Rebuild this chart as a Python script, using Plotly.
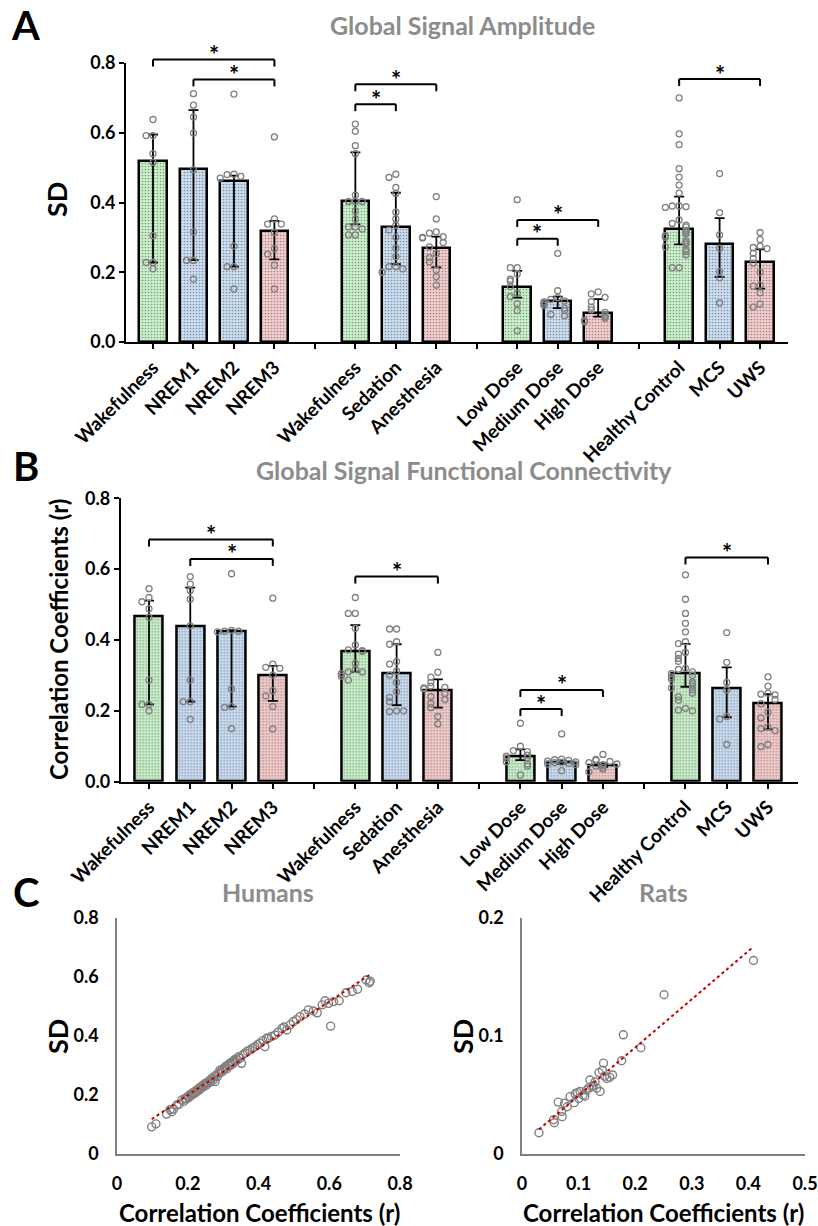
import numpy as np
import plotly.graph_objects as go

W, H = 818, 1226
FONT = "Lato"

# ---------------- data ----------------
categories = ["Wakefulness", "NREM1", "NREM2", "NREM3",
              "Wakefulness", "Sedation", "Anesthesia",
              "Low Dose", "Medium Dose", "High Dose",
              "Healthy Control", "MCS", "UWS"]
group_sizes = [4, 3, 3, 3]
color_keys = ["g", "b", "b", "r", "g", "b", "r", "g", "b", "r", "g", "b", "r"]

# Panel A: Global signal amplitude (SD) - median, Q1, Q3 and individual points
amp_median = [0.520, 0.497, 0.462, 0.318, 0.403, 0.330, 0.270, 0.158, 0.118, 0.083, 0.325, 0.282, 0.230]
amp_q3 = [0.595, 0.665, 0.477, 0.347, 0.544, 0.428, 0.302, 0.204, 0.130, 0.123, 0.417, 0.355, 0.266]
amp_q1 = [0.228, 0.235, 0.216, 0.237, 0.337, 0.223, 0.214, 0.127, 0.097, 0.073, 0.280, 0.187, 0.153]
amp_points = [
    [0.638, 0.592, 0.592, 0.540, 0.515, 0.305, 0.228, 0.228, 0.210],
    [0.712, 0.679, 0.645, 0.599, 0.494, 0.316, 0.234, 0.234, 0.180],
    [0.711, 0.481, 0.480, 0.475, 0.470, 0.275, 0.216, 0.216, 0.152],
    [0.588, 0.353, 0.338, 0.338, 0.314, 0.268, 0.252, 0.220, 0.152],
    [0.625, 0.604, 0.563, 0.540, 0.421, 0.403, 0.403, 0.403, 0.376, 0.353, 0.330, 0.330, 0.324, 0.307, 0.307],
    [0.481, 0.472, 0.443, 0.426, 0.372, 0.353, 0.335, 0.321, 0.300, 0.269, 0.245, 0.216, 0.216, 0.210, 0.200],
    [0.417, 0.353, 0.316, 0.312, 0.302, 0.300, 0.298, 0.285, 0.273, 0.254, 0.242, 0.230, 0.206, 0.187, 0.163],
    [0.408, 0.213, 0.213, 0.195, 0.180, 0.175, 0.159, 0.140, 0.130, 0.110, 0.090, 0.032],
    [0.254, 0.147, 0.127, 0.122, 0.118, 0.115, 0.110, 0.105, 0.097, 0.090, 0.079, 0.075],
    [0.144, 0.138, 0.128, 0.116, 0.100, 0.092, 0.085, 0.077, 0.072, 0.068, 0.062, 0.058],
    [0.700, 0.597, 0.566, 0.497, 0.473, 0.450, 0.427, 0.390, 0.390, 0.388, 0.386, 0.350, 0.340, 0.335,
     0.330, 0.320, 0.315, 0.310, 0.305, 0.300, 0.290, 0.285, 0.280, 0.273, 0.265, 0.259, 0.250, 0.213, 0.213],
    [0.483, 0.371, 0.307, 0.269, 0.202, 0.184, 0.112],
    [0.314, 0.294, 0.275, 0.271, 0.268, 0.254, 0.240, 0.226, 0.200, 0.163, 0.160, 0.141, 0.109, 0.100],
]
amp_brackets = [(0, 3, 0.810), (1, 3, 0.753), (4, 6, 0.739), (4, 5, 0.682),
                (7, 9, 0.350), (7, 8, 0.296), (10, 12, 0.754)]

# Panel B: Global signal functional connectivity (r)
fc_median = [0.466, 0.440, 0.425, 0.300, 0.367, 0.306, 0.259, 0.0715, 0.0546, 0.046, 0.307, 0.264, 0.222]
fc_q3 = [0.511, 0.548, 0.428, 0.327, 0.442, 0.388, 0.289, 0.091, 0.058, 0.052, 0.389, 0.323, 0.247]
fc_q1 = [0.218, 0.226, 0.212, 0.228, 0.310, 0.216, 0.209, 0.061, 0.050, 0.042, 0.268, 0.182, 0.148]
fc_points = [
    [0.545, 0.520, 0.508, 0.488, 0.464, 0.287, 0.218, 0.218, 0.200],
    [0.579, 0.558, 0.540, 0.515, 0.440, 0.287, 0.226, 0.226, 0.176],
    [0.587, 0.427, 0.425, 0.425, 0.423, 0.262, 0.212, 0.210, 0.150],
    [0.518, 0.332, 0.323, 0.320, 0.301, 0.257, 0.242, 0.212, 0.149],
    [0.520, 0.475, 0.475, 0.433, 0.386, 0.372, 0.370, 0.368, 0.334, 0.317, 0.310, 0.310, 0.305, 0.298, 0.287],
    [0.431, 0.431, 0.395, 0.388, 0.339, 0.332, 0.312, 0.301, 0.280, 0.254, 0.238, 0.226, 0.200, 0.198, 0.200],
    [0.365, 0.309, 0.295, 0.280, 0.270, 0.266, 0.265, 0.262, 0.249, 0.240, 0.232, 0.220, 0.209, 0.184, 0.163],
    [0.165, 0.100, 0.088, 0.085, 0.075, 0.072, 0.068, 0.066, 0.056, 0.050, 0.044, 0.019],
    [0.135, 0.064, 0.062, 0.060, 0.058, 0.056, 0.055, 0.054, 0.052, 0.050, 0.048, 0.031],
    [0.077, 0.063, 0.060, 0.057, 0.054, 0.050, 0.048, 0.046, 0.044, 0.040, 0.035, 0.028],
    [0.584, 0.515, 0.475, 0.447, 0.423, 0.395, 0.390, 0.365, 0.360, 0.348, 0.340, 0.320, 0.317, 0.310,
     0.305, 0.300, 0.296, 0.290, 0.280, 0.276, 0.270, 0.265, 0.259, 0.250, 0.240, 0.230, 0.207, 0.202, 0.200],
    [0.421, 0.337, 0.280, 0.259, 0.184, 0.177, 0.105],
    [0.296, 0.270, 0.250, 0.247, 0.245, 0.232, 0.220, 0.196, 0.180, 0.155, 0.150, 0.144, 0.105, 0.099],
]
fc_brackets = [(0, 3, 0.684), (1, 3, 0.629), (4, 6, 0.579),
               (7, 9, 0.259), (7, 8, 0.205), (10, 12, 0.633)]

# Panel C: Humans scatter (r, SD)
human_r = [0.098, 0.110, 0.140, 0.150, 0.155, 0.160, 0.169, 0.175, 0.183, 0.188, 0.192, 0.196, 0.200, 0.203,
           0.207, 0.210, 0.214, 0.218, 0.221, 0.225, 0.228, 0.232, 0.235, 0.238, 0.242, 0.245, 0.248, 0.252,
           0.255, 0.258, 0.262, 0.265, 0.268, 0.272, 0.275, 0.277, 0.280, 0.284, 0.287, 0.291, 0.294, 0.297,
           0.300, 0.303, 0.305, 0.308, 0.311, 0.314, 0.317, 0.319, 0.322, 0.325, 0.328, 0.331, 0.334, 0.337,
           0.340, 0.344, 0.348, 0.352, 0.356, 0.362, 0.368, 0.376, 0.383, 0.390, 0.397, 0.404, 0.412, 0.418,
           0.423, 0.428, 0.437, 0.447, 0.455, 0.466, 0.472, 0.480, 0.490, 0.498, 0.507, 0.517, 0.530, 0.541,
           0.555, 0.566, 0.580, 0.588, 0.598, 0.604, 0.612, 0.628, 0.647, 0.665, 0.680, 0.704, 0.713, 0.716]
human_sd = [0.092, 0.102, 0.135, 0.150, 0.143, 0.152, 0.166, 0.168, 0.183, 0.178, 0.188, 0.186, 0.195, 0.191,
            0.202, 0.198, 0.207, 0.204, 0.213, 0.210, 0.219, 0.216, 0.226, 0.222, 0.232, 0.228, 0.238, 0.233,
            0.243, 0.240, 0.249, 0.244, 0.256, 0.250, 0.262, 0.245, 0.267, 0.262, 0.274, 0.284, 0.276, 0.285,
            0.281, 0.292, 0.290, 0.297, 0.289, 0.302, 0.298, 0.307, 0.301, 0.312, 0.306, 0.318, 0.313, 0.322,
            0.318, 0.329, 0.324, 0.307, 0.336, 0.342, 0.348, 0.352, 0.358, 0.363, 0.370, 0.375, 0.384, 0.363,
            0.392, 0.392, 0.398, 0.403, 0.412, 0.425, 0.430, 0.420, 0.438, 0.448, 0.455, 0.465, 0.474, 0.488,
            0.484, 0.478, 0.505, 0.519, 0.510, 0.433, 0.516, 0.519, 0.546, 0.550, 0.558, 0.589, 0.580, 0.585]

# Panel C: Rats scatter (r, SD)
rats_r = [0.030, 0.057, 0.056, 0.071, 0.070, 0.064, 0.075, 0.085, 0.092, 0.094, 0.1025, 0.111, 0.114, 0.120,
          0.123, 0.129, 0.132, 0.138, 0.136, 0.144, 0.142, 0.150, 0.160, 0.176, 0.179, 0.210, 0.251, 0.409,
          0.080, 0.098, 0.108, 0.118, 0.126, 0.146, 0.155, 0.100]
rats_sd = [0.018, 0.0265, 0.029, 0.0316, 0.036, 0.044, 0.043, 0.0486, 0.0435, 0.051, 0.053, 0.049, 0.054, 0.0627,
           0.057, 0.061, 0.0557, 0.053, 0.069, 0.077, 0.071, 0.064, 0.067, 0.079, 0.101, 0.090, 0.135, 0.164,
           0.040, 0.052, 0.050, 0.056, 0.058, 0.066, 0.065, 0.047]

# ---------------- layout helpers ----------------
positions = []
p = 0
for gs in group_sizes:
    for _ in range(gs):
        positions.append(p)
        p += 1
    p += 1
gap_ticks = [4, 8, 12]

fill = {"g": "#c9f1c9", "b": "#cadef3", "r": "#f5cccc"}
dotc = {"g": "#b2e2b2", "b": "#b2cbe6", "r": "#e6b4b4"}
PT = "#808080"


def px(x):
    return x / W


def py(y):
    return 1 - y / H


def swarm(vals, thr, step=0.17):
    seq = [0, -1, 1, -2, 2]
    placed, offs = [], []
    for v in vals:
        k = sum(1 for u in placed if abs(u - v) < thr) % len(seq)
        offs.append(seq[k] * step)
        placed.append(v)
    return offs


fig = go.Figure()
shapes, annotations = [], []


def bar_panel(xa, ya, med, q1, q3, pts, brackets, ymax, plot_h):
    med = np.array(med)
    fig.add_trace(go.Bar(
        x=positions, y=med, width=0.68, xaxis=xa, yaxis=ya,
        marker=dict(color=[fill[k] for k in color_keys],
                    line=dict(color="black", width=2.5),
                    pattern=dict(shape=".", size=3, solidity=0.25, fillmode="overlay",
                                 fgcolor=[dotc[k] for k in color_keys])),
        error_y=dict(type="data", symmetric=False, array=np.array(q3) - med,
                     arrayminus=med - np.array(q1), color="black", thickness=1.8, width=5),
        showlegend=False, hoverinfo="skip"))
    xs, ys = [], []
    for i, vals in enumerate(pts):
        offs = swarm(vals, 0.017)
        xs += [positions[i] + o for o in offs]
        ys += vals
    fig.add_trace(go.Scatter(
        x=xs, y=ys, mode="markers", xaxis=xa, yaxis=ya,
        marker=dict(symbol="circle-open", size=6, color=PT, line=dict(width=1.3, color=PT)),
        showlegend=False, hoverinfo="skip"))
    drop = 7 / plot_h
    xr = xa
    yr = ya + " domain"
    for a, b, v in brackets:
        yd = v / ymax
        x0, x1 = positions[a], positions[b]
        ln = dict(color="black", width=2)
        shapes.append(dict(type="line", xref=xr, yref=yr, x0=x0, x1=x1, y0=yd, y1=yd, line=ln))
        shapes.append(dict(type="line", xref=xr, yref=yr, x0=x0, x1=x0, y0=yd, y1=yd - drop, line=ln))
        shapes.append(dict(type="line", xref=xr, yref=yr, x0=x1, x1=x1, y0=yd, y1=yd - drop, line=ln))
        annotations.append(dict(xref=xr, yref=yr, x=(x0 + x1) / 2, y=yd, text="*", showarrow=False,
                                yanchor="middle", yshift=5,
                                font=dict(family=FONT, size=24, color="black", weight="bold")))


bar_panel("x", "y", amp_median, amp_q1, amp_q3, amp_points, amp_brackets, 0.8, 279)
bar_panel("x2", "y2", fc_median, fc_q1, fc_q3, fc_points, fc_brackets, 0.8, 283.4)


def scatter_panel(xa, ya, xs, ys):
    xs = np.array(xs)
    ys = np.array(ys)
    fig.add_trace(go.Scatter(
        x=xs, y=ys, mode="markers", xaxis=xa, yaxis=ya,
        marker=dict(symbol="circle-open", size=8, color=PT, line=dict(width=1.4, color=PT)),
        showlegend=False, hoverinfo="skip"))
    k, c = np.polyfit(xs, ys, 1)
    lx = np.array([xs.min(), xs.max()])
    fig.add_trace(go.Scatter(
        x=lx, y=k * lx + c, mode="lines", xaxis=xa, yaxis=ya,
        line=dict(color="#c00000", width=2, dash="dot"),
        showlegend=False, hoverinfo="skip"))


scatter_panel("x3", "y3", human_r, human_sd)
scatter_panel("x4", "y4", rats_r, rats_sd)

bold = dict(family=FONT, color="black", weight="bold")

cat_axis = dict(
    tickvals=positions + gap_ticks, ticktext=categories + ["", "", ""],
    tickangle=-45, ticks="outside", ticklen=5, tickwidth=1.5, tickcolor="black",
    showline=True, linecolor="black", linewidth=2, showgrid=False, zeroline=False,
    tickfont=dict(size=19, **bold), automargin=False)
val_axis = dict(
    range=[0, 0.8], tickvals=[0, 0.2, 0.4, 0.6, 0.8], ticktext=["0.0", "0.2", "0.4", "0.6", "0.8"],
    ticks="outside", ticklen=5, tickwidth=1.5, tickcolor="black",
    showline=True, linecolor="black", linewidth=2, showgrid=False, zeroline=False,
    tickfont=dict(size=18, **bold), automargin=False)
sc_axis = dict(ticks="", showline=True, linecolor="#7f7f7f", linewidth=1.6, showgrid=False,
               zeroline=False, tickfont=dict(size=18, **bold), ticklabelstandoff=13, automargin=False)

fig.update_layout(
    template="none",
    width=W, height=H, margin=dict(l=0, r=0, t=0, b=0, autoexpand=False),
    paper_bgcolor="white", plot_bgcolor="white", bargap=0,
    font=dict(family=FONT),
    xaxis=dict(domain=[px(126), px(788)], range=[-0.667, 15.69], anchor="y", **cat_axis),
    yaxis=dict(domain=[py(342), py(63)], anchor="x", **val_axis),
    xaxis2=dict(domain=[px(120.7), px(797.7)], range=[-0.686, 15.72], anchor="y2", **cat_axis),
    yaxis2=dict(domain=[py(781.7), py(498.3)], anchor="x2", **val_axis),
    xaxis3=dict(domain=[px(117), px(400)], range=[0, 0.8], anchor="y3",
                tickvals=[0, 0.2, 0.4, 0.6, 0.8], ticktext=["0", "0.2", "0.4", "0.6", "0.8"], **sc_axis),
    yaxis3=dict(domain=[py(1154), py(917.7)], range=[0, 0.8], anchor="x3",
                tickvals=[0, 0.2, 0.4, 0.6, 0.8], ticktext=["0", "0.2", "0.4", "0.6", "0.8"], **sc_axis),
    xaxis4=dict(domain=[px(522), px(805)], range=[0, 0.5], anchor="y4",
                tickvals=[0, 0.1, 0.2, 0.3, 0.4, 0.5], ticktext=["0", "0.1", "0.2", "0.3", "0.4", "0.5"], **sc_axis),
    yaxis4=dict(domain=[py(1154), py(918)], range=[0, 0.2], anchor="x4",
                tickvals=[0, 0.1, 0.2], ticktext=["0", "0.1", "0.2"], **sc_axis),
)


def label(text, x, y, size, color="black", angle=0):
    annotations.append(dict(xref="paper", yref="paper", x=px(x), y=py(y), text=text, showarrow=False,
                            xanchor="center", yanchor="middle", textangle=angle,
                            font=dict(family=FONT, size=size, color=color, weight="bold")))


GRAY = "#8c8c8c"
label("A", 25, 25, 40)
label("B", 26, 466, 40)
label("C", 26, 892, 40)
label("Global Signal Amplitude", 462.5, 25, 25, GRAY)
label("Global Signal Functional Connectivity", 463.5, 470, 25, GRAY)
label("Humans", 268, 892, 25, GRAY)
label("Rats", 663, 892, 25, GRAY)
label("SD", 57, 200, 27, angle=-90)
label("Correlation Coefficients (r)", 58, 640, 24, angle=-90)
label("SD", 57, 1037, 27, angle=-90)
label("SD", 462, 1037, 27, angle=-90)
label("Correlation Coefficients (r)", 259.5, 1212, 24)
label("Correlation Coefficients (r)", 663, 1212, 24)

fig.update_layout(shapes=shapes, annotations=annotations)
fig.write_html("out.html", config={"displayModeBar": False},
               post_script="document.body.style.margin='0';document.body.style.overflow='hidden';")
